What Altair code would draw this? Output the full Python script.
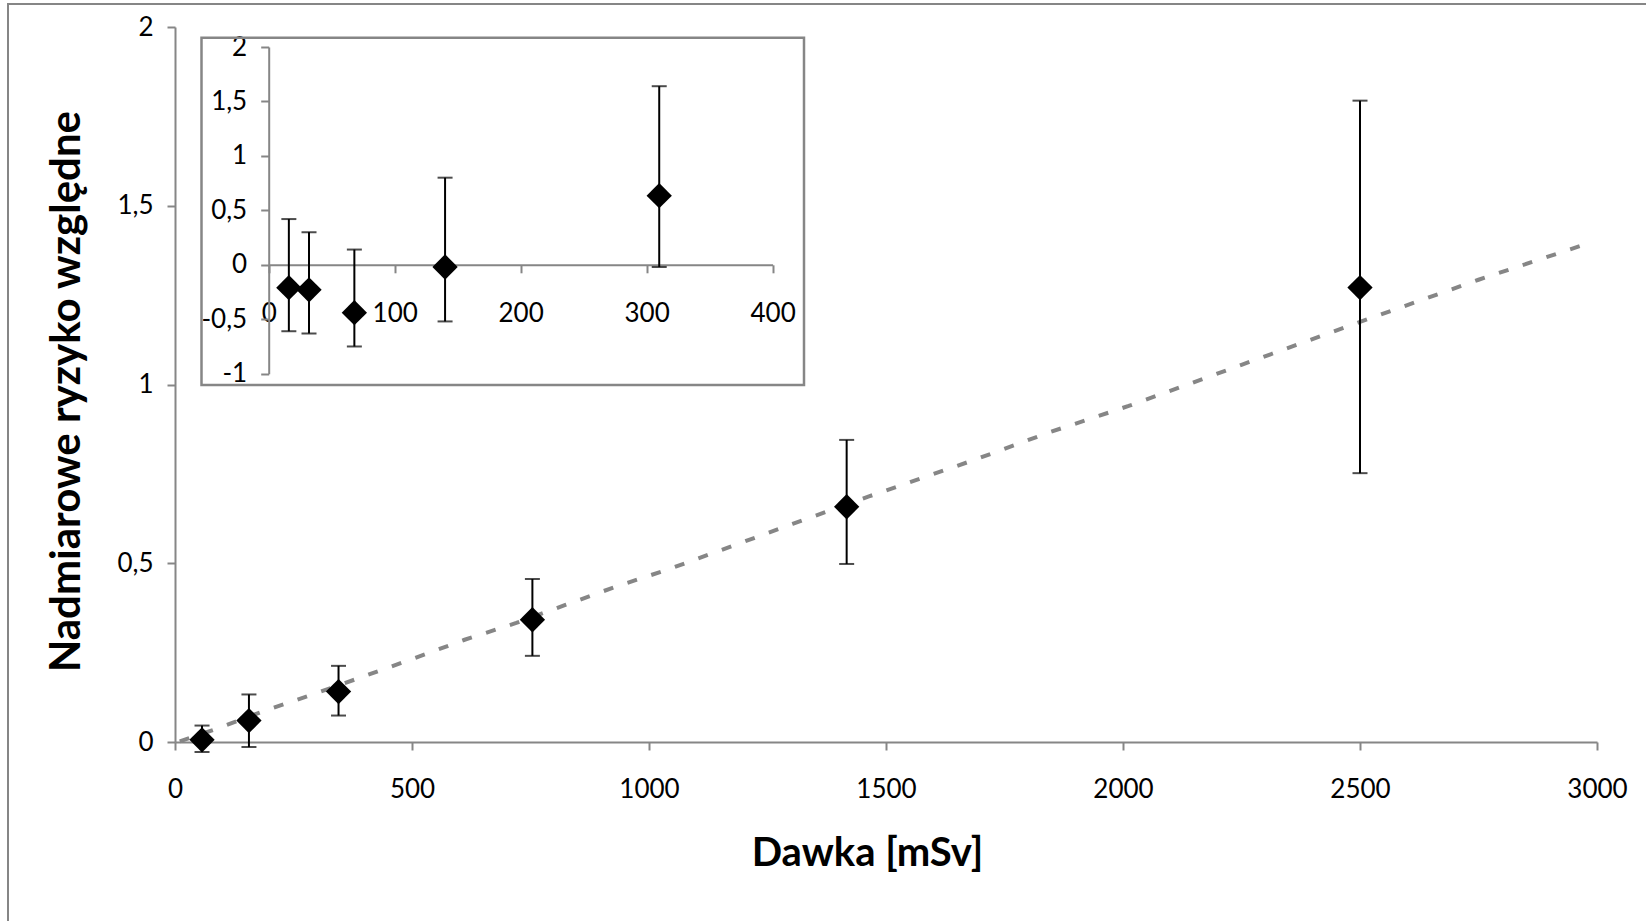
import altair as alt
import pandas as pd

# ---------------- data ----------------
# main chart: dose [mSv] and excess relative risk with error bars
main_dose = [57, 156, 345, 754, 1417, 2500]
main_err = [0.006, 0.060, 0.141, 0.342, 0.658, 1.271]
main_hi = [0.046, 0.133, 0.213, 0.456, 0.845, 1.794]
main_lo = [-0.028, -0.014, 0.074, 0.241, 0.498, 0.752]

# dotted trend line
trend_dose = [10, 81, 186, 288, 397, 506, 611, 720, 825, 931, 1039, 1303,
              1464, 1686, 1844, 2012, 2250, 2500, 2750, 2975]
trend_err = [0.002, 0.034, 0.086, 0.132, 0.183, 0.235, 0.286, 0.333, 0.384,
             0.435, 0.482, 0.610, 0.687, 0.789, 0.866, 0.940, 1.055, 1.175,
             1.293, 1.392]

# inset: low-dose region
ins_dose = [16, 32, 68, 140, 310]
ins_err = [-0.21, -0.23, -0.44, -0.02, 0.635]
ins_hi = [0.42, 0.30, 0.14, 0.80, 1.64]
ins_lo = [-0.61, -0.63, -0.75, -0.52, -0.02]

main_x_ticks = [0, 500, 1000, 1500, 2000, 2500, 3000]
main_y_ticks = [0, 0.5, 1, 1.5, 2]
ins_x_ticks = [0, 100, 200, 300, 400]
ins_y_ticks = [-1, -0.5, 0, 0.5, 1, 1.5, 2]

x_title = "Dawka [mSv]"
y_title = "Nadmiarowe ryzyko względne"

# ---------------- tables ----------------
main_df = pd.DataFrame({"dose": main_dose, "err": main_err, "hi": main_hi, "lo": main_lo})
trend_df = pd.DataFrame({"dose": trend_dose, "err": trend_err})
ins_df = pd.DataFrame({"dose": ins_dose, "err": ins_err, "hi": ins_hi, "lo": ins_lo})
one = pd.DataFrame({"k": [0]})

# ---------------- styling ----------------
FONT = "Lato"
GRAY = "#868686"
W, H = 1422, 715
LBL = "replace(replace(format(datum.value, '~g'), '.', ','), '\u2212', '-')"

common_axis = dict(
    grid=False, domainColor=GRAY, domainWidth=2, tickColor=GRAY, tickWidth=2,
    tickSize=8, labelFont=FONT, labelFontSize=26, labelColor="black",
    labelFlush=False, labelOverlap=False, labelExpr=LBL,
)

x_main_axis = alt.Axis(
    values=main_x_ticks, labelPadding=26, title=x_title, titleFont=FONT,
    titleFontSize=40, titleFontWeight="bold", titleColor="black",
    titleX=692, titleY=123, titleBaseline="alphabetic", titleAlign="center",
    orient="bottom", **common_axis)
y_main_axis = alt.Axis(
    values=main_y_ticks, labelPadding=14, title=y_title, titleFont=FONT,
    titleFontSize=42, titleFontWeight="bold", titleColor="black",
    titleX=-96, titleY=364, titleAngle=-90, titleBaseline="alphabetic",
    titleAlign="center", orient="left", **common_axis)

xs_main = alt.Scale(domain=[0, 3000], nice=False, zero=False)
ys_main = alt.Scale(domain=[0, 2], nice=False, zero=False)

XM = alt.X("dose:Q", scale=xs_main, axis=x_main_axis)
YM = lambda f: alt.Y(f"{f}:Q", scale=ys_main, axis=y_main_axis)

trend = alt.Chart(trend_df).mark_line(
    color=GRAY, strokeWidth=4, strokeDash=[10, 15]
).encode(x=XM, y=YM("err"))
m_rule = alt.Chart(main_df).mark_rule(color="black", strokeWidth=2).encode(
    x=XM, y=YM("lo"), y2="hi:Q")
m_hi = alt.Chart(main_df).mark_tick(color="black", orient="horizontal", size=15, thickness=2).encode(
    x=XM, y=YM("hi"))
m_lo = alt.Chart(main_df).mark_tick(color="black", orient="horizontal", size=15, thickness=2).encode(
    x=XM, y=YM("lo"))
m_pt = alt.Chart(main_df).mark_point(
    shape="diamond", filled=True, color="black", opacity=1, size=640
).encode(x=XM, y=YM("err"))
main_layer = alt.layer(trend, m_rule, m_hi, m_lo, m_pt)

# inset
xs_in = alt.Scale(domain=[0, 400], range=[93.7, 597.6], nice=False, zero=False)
ys_in = alt.Scale(domain=[-1, 2], range=[346.7, 20], nice=False, zero=False)
x_in_axis = alt.Axis(values=ins_x_ticks, labelPadding=28, title=None,
                     orient="bottom", offset=-477.2, **common_axis)
y_in_axis = alt.Axis(values=ins_y_ticks, labelPadding=14, title=None,
                     orient="left", offset=-93.7, **common_axis)
XI = alt.X("dose:Q", scale=xs_in, axis=x_in_axis)
YI = lambda f: alt.Y(f"{f}:Q", scale=ys_in, axis=y_in_axis)

i_rule = alt.Chart(ins_df).mark_rule(color="black", strokeWidth=2).encode(
    x=XI, y=YI("lo"), y2="hi:Q")
i_hi = alt.Chart(ins_df).mark_tick(color="black", orient="horizontal", size=15, thickness=2).encode(
    x=XI, y=YI("hi"))
i_lo = alt.Chart(ins_df).mark_tick(color="black", orient="horizontal", size=15, thickness=2).encode(
    x=XI, y=YI("lo"))
i_pt = alt.Chart(ins_df).mark_point(
    shape="diamond", filled=True, color="black", opacity=1, size=640
).encode(x=XI, y=YI("err"))
inset_layer = alt.layer(i_rule, i_hi, i_lo, i_pt)

inset_frame = alt.Chart(one).mark_rect(
    fillOpacity=0, stroke=GRAY, strokeWidth=2.5
).encode(x=alt.value(26.5), x2=alt.value(629), y=alt.value(10.8), y2=alt.value(358))

outer_frame = alt.Chart(one).mark_rect(
    fillOpacity=0, stroke=GRAY, strokeWidth=2
).encode(x=alt.value(-167), x2=alt.value(W + 200), y=alt.value(-23), y2=alt.value(H + 400))

chart = alt.layer(
    outer_frame, main_layer, inset_frame, inset_layer
).resolve_scale(
    x="independent", y="independent"
).properties(
    width=W, height=H,
    autosize=alt.AutoSizeParams(type="none"),
    padding={"left": 175, "top": 27, "right": 49, "bottom": 179},
    background="white",
).configure_view(stroke=None)

chart.save("out.html", embed_options={"renderer": "svg", "actions": False})
